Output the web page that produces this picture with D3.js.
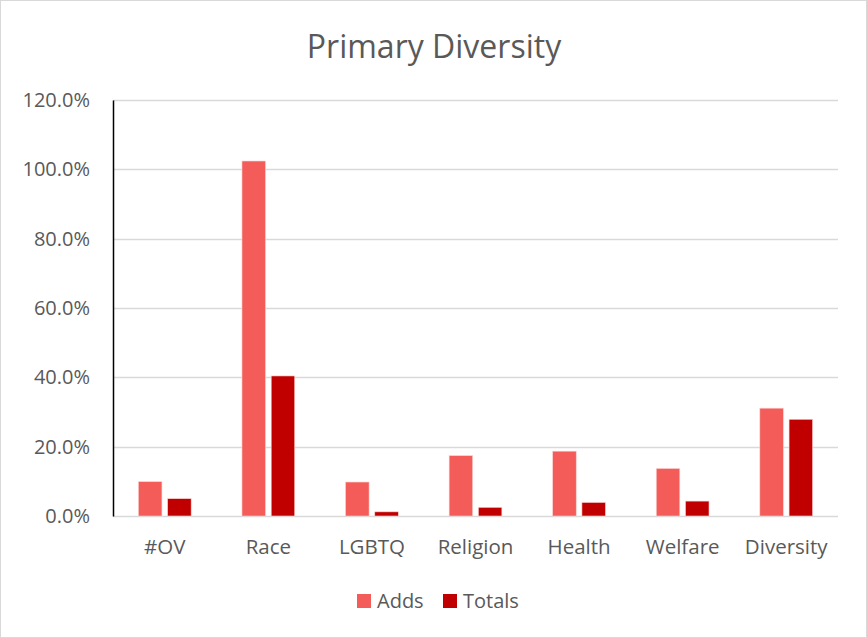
<!DOCTYPE html>
<html>
<head>
<meta charset="utf-8">
<script src="https://cdn.jsdelivr.net/npm/d3@7"></script>
<style>
  html, body { margin: 0; padding: 0; background: #fff; }
  svg { display: block; }
  text { font-family: "Open Sans", "Noto Sans", sans-serif; fill: #595959; }
</style>
</head>
<body>
<script>
// Category labels and the two series, in percent
const categories = ["#OV", "Race", "LGBTQ", "Religion", "Health", "Welfare", "Diversity"];
const adds   = [9.9, 102.4, 9.8, 17.4, 18.7, 13.7, 31.1];
const totals = [5.0, 40.4, 1.2, 2.5, 3.9, 4.3, 27.9];
const seriesNames = ["Adds", "Totals"];
const seriesColors = ["#f35c58", "#c00000"];
const yTicks = [0, 20, 40, 60, 80, 100, 120];

const W = 867, H = 638;
const margin = { left: 113, right: 29, top: 100, bottom: 122 };

const svg = d3.select("body").append("svg").attr("width", W).attr("height", H);

// chart frame
svg.append("rect").attr("x", 0.5).attr("y", 0.5).attr("width", W - 1).attr("height", H - 1)
  .attr("fill", "#fff").attr("stroke", "#d9d9d9");

svg.append("text").attr("x", 434).attr("y", 58).attr("text-anchor", "middle")
  .style("font-size", "32px").text("Primary Diversity");

const x = d3.scaleBand().domain(categories).range([margin.left, W - margin.right]);
const y = d3.scaleLinear().domain([0, 120]).range([H - margin.bottom, margin.top]);
const xInner = d3.scaleBand().domain(seriesNames).range([0, x.bandwidth()]).paddingInner(0.195).paddingOuter(0.87);

// gridlines
svg.append("g").selectAll("line").data(yTicks).join("line")
  .attr("x1", margin.left).attr("x2", W - margin.right)
  .attr("y1", d => Math.round(y(d)) + 0.5).attr("y2", d => Math.round(y(d)) + 0.5)
  .attr("stroke", "#d9d9d9").attr("stroke-width", 1.5);

// y axis labels
const yAxis = d3.axisLeft(y).tickValues(yTicks).tickFormat(d => d.toFixed(1) + "%").tickSize(0).tickPadding(23);
const gy = svg.append("g").attr("transform", `translate(${margin.left},0)`).call(yAxis);
gy.select(".domain").attr("stroke", "#000").attr("stroke-width", 1.5);
gy.selectAll("text").style("font-size", "20px").attr("fill", "#595959")
  .style("font-family", "'Open Sans', 'Noto Sans', sans-serif");

// bars
const data = categories.map((c, i) => ({ c, vals: [adds[i], totals[i]] }));
const groups = svg.append("g").selectAll("g").data(data).join("g")
  .attr("transform", d => `translate(${x(d.c)},0)`);
groups.selectAll("rect").data(d => d.vals.map((v, j) => ({ v, s: seriesNames[j], j })))
  .join("rect")
  .attr("x", d => xInner(d.s))
  .attr("width", xInner.bandwidth())
  .attr("y", d => y(d.v))
  .attr("height", d => y(0) - y(d.v))
  .attr("fill", d => seriesColors[d.j])
  .attr("stroke", "#fbd0cf").attr("stroke-width", 0.6);

// x axis labels
const xAxis = d3.axisBottom(x).tickSize(0).tickPadding(23);
const gx = svg.append("g").attr("transform", `translate(0,${y(0)})`).call(xAxis);
gx.select(".domain").remove();
gx.selectAll("text").style("font-size", "20.5px").attr("fill", "#595959")
  .style("font-family", "'Open Sans', 'Noto Sans', sans-serif");

// legend
const legendX = [357, 443];
const lg = svg.append("g").selectAll("g").data(seriesNames).join("g")
  .attr("transform", (d, i) => `translate(${legendX[i]},594)`);
lg.append("rect").attr("width", 14).attr("height", 14).attr("fill", (d, i) => seriesColors[i]);
lg.append("text").attr("x", 20).attr("y", 14).style("font-size", "20px").text(d => d);
</script>
</body>
</html>
